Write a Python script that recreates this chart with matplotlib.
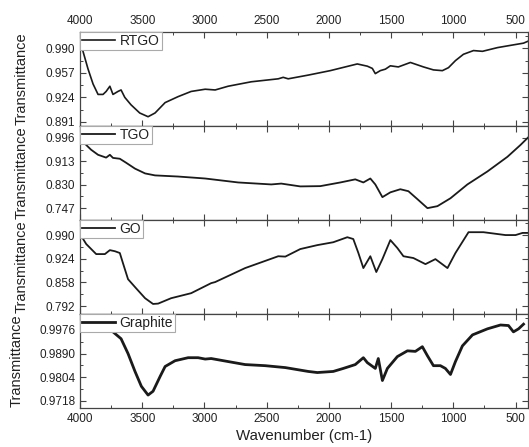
import matplotlib
matplotlib.use("Agg")
import matplotlib.pyplot as plt
from matplotlib.ticker import MultipleLocator, FixedLocator, AutoMinorLocator

plt.rcParams['font.family'] = ['Liberation Sans', 'DejaVu Sans']

# RTGO spectrum (wavenumber, transmittance)
rtgo_wn = [4000, 3976, 3936, 3895, 3855, 3815, 3790, 3760, 3735, 3695, 3670, 3640, 3590,
           3520, 3453, 3397, 3316, 3212, 3107, 2994, 2914, 2810, 2624, 2407, 2367, 2327,
           2166, 1989, 1772, 1691, 1651, 1627, 1587, 1546, 1506, 1442, 1345, 1240, 1160,
           1088, 1039, 983, 919, 838, 766, 645, 541, 436, 400]
rtgo_t = [0.9996, 0.986, 0.9625, 0.942, 0.928, 0.928, 0.932, 0.939, 0.928, 0.932, 0.934,
          0.924, 0.914, 0.903, 0.898, 0.903, 0.917, 0.925, 0.932, 0.935, 0.934, 0.939,
          0.945, 0.949, 0.951, 0.949, 0.954, 0.960, 0.969, 0.966, 0.963, 0.956, 0.960,
          0.962, 0.9665, 0.965, 0.971, 0.965, 0.961, 0.960, 0.964, 0.9735, 0.982, 0.987,
          0.986, 0.991, 0.994, 0.997, 0.9996]

# TGO spectrum
tgo_wn = [3960, 3911, 3855, 3790, 3760, 3735, 3680, 3630, 3558, 3477, 3397, 3212, 2994,
          2729, 2463, 2383, 2230, 2069, 1908, 1788, 1723, 1667, 1627, 1570, 1506, 1426,
          1361, 1289, 1208, 1128, 1023, 887, 726, 565, 460, 400]
tgo_t = [0.975, 0.954, 0.936, 0.926, 0.936, 0.925, 0.922, 0.908, 0.887, 0.870, 0.863,
         0.859, 0.852, 0.838, 0.831, 0.834, 0.824, 0.825, 0.838, 0.849, 0.838, 0.852,
         0.831, 0.786, 0.803, 0.814, 0.807, 0.779, 0.747, 0.754, 0.782, 0.831, 0.877,
         0.929, 0.971, 0.997]

# GO spectrum
go_wn = [4000, 3950, 3870, 3800, 3760, 3720, 3680, 3655, 3614, 3550, 3477, 3413, 3372,
         3268, 3107, 2946, 2914, 2673, 2407, 2350, 2230, 2093, 1965, 1852, 1804, 1763,
         1723, 1667, 1619, 1570, 1506, 1450, 1401, 1321, 1224, 1144, 1047, 983, 878,
         758, 581, 500, 444, 400]
go_t = [0.993, 0.965, 0.937, 0.937, 0.948, 0.945, 0.940, 0.912, 0.867, 0.842, 0.814,
        0.798, 0.799, 0.814, 0.828, 0.856, 0.859, 0.898, 0.931, 0.930, 0.951, 0.962,
        0.970, 0.984, 0.979, 0.940, 0.898, 0.931, 0.887, 0.923, 0.976, 0.954, 0.931,
        0.926, 0.909, 0.923, 0.898, 0.940, 0.998, 0.998, 0.990, 0.990, 0.996, 0.996]

# Graphite spectrum
gr_wn = [4000, 3800, 3735, 3670, 3614, 3558, 3507, 3453, 3413, 3356, 3316, 3236, 3131,
         3051, 2994, 2946, 2810, 2673, 2512, 2350, 2166, 2093, 1965, 1884, 1788, 1723,
         1691, 1627, 1603, 1570, 1530, 1450, 1369, 1305, 1249, 1208, 1160, 1104, 1064,
         1023, 983, 927, 846, 726, 621, 557, 517, 476, 436]
gr_t = [0.9985, 0.9978, 0.9969, 0.9944, 0.9890, 0.9825, 0.9771, 0.9739, 0.9753, 0.9807,
        0.9843, 0.9864, 0.9875, 0.9875, 0.9870, 0.9872, 0.9861, 0.9850, 0.9846, 0.9839,
        0.9825, 0.9821, 0.9825, 0.9836, 0.9850, 0.9875, 0.9857, 0.9836, 0.9872, 0.9792,
        0.9836, 0.9879, 0.9900, 0.9898, 0.9915, 0.9882, 0.9846, 0.9846, 0.9836, 0.9814,
        0.9861, 0.9918, 0.9958, 0.9980, 0.9994, 0.9992, 0.9969, 0.9980, 0.9997]

names = ['RTGO', 'TGO', 'GO', 'Graphite']
series = [(rtgo_wn, rtgo_t), (tgo_wn, tgo_t), (go_wn, go_t), (gr_wn, gr_t)]
yticks = [[0.891, 0.924, 0.957, 0.990],
          [0.747, 0.830, 0.913, 0.996],
          [0.792, 0.858, 0.924, 0.990],
          [0.9718, 0.9804, 0.9890, 0.9976]]
ylims = [(0.8855, 1.012), (0.705, 1.038), (0.770, 1.032), (0.9692, 1.0034)]
widths = [1.2, 1.3, 1.3, 2.0]

ink = '#222222'
fig = plt.figure(figsize=(5.29, 4.47), dpi=100)
left, right, bottom, top = 80 / 529, 528 / 529, 1 - 408 / 447, 1 - 32 / 447
h = (top - bottom) / 4

axes = []
for i in range(4):
    ax = fig.add_axes([left, top - (i + 1) * h, right - left, h])
    axes.append(ax)
    wn, t = series[i]
    ax.plot(wn, t, color='#1a1a1a', lw=widths[i], label=names[i])
    ax.set_xlim(4000, 400)
    ax.set_ylim(*ylims[i])
    ax.xaxis.set_major_locator(MultipleLocator(500))
    ax.xaxis.set_minor_locator(MultipleLocator(250))
    ax.yaxis.set_major_locator(FixedLocator(yticks[i]))
    step = yticks[i][1] - yticks[i][0]
    ax.yaxis.set_minor_locator(FixedLocator([yticks[i][0] + step * (k - 0.5) for k in range(0, 5)]))
    fmt = '%.4f' if i == 3 else '%.3f'
    ax.set_yticklabels([fmt % v for v in yticks[i]])
    ax.tick_params(which='both', direction='in', top=True, right=True, colors='#444444',
                   labelcolor=ink, labelsize=8.5)
    ax.tick_params(which='major', length=4.5, width=0.8)
    ax.tick_params(which='minor', length=2.5, width=0.7)
    ax.tick_params(axis='x', labelbottom=(i == 3), labeltop=(i == 0))
    for s in ax.spines.values():
        s.set_color('#444444')
        s.set_linewidth(0.9)
    ax.set_ylabel('Transmittance', fontsize=10.5, color=ink)
    ax.yaxis.set_label_coords(-0.125 if i == 3 else -0.114, 0.5)
    leg = ax.legend(loc='upper left', fontsize=10, handlelength=2.4, handletextpad=0.3,
                    borderaxespad=0.0, borderpad=0.15, fancybox=False, framealpha=1,
                    edgecolor='#aaaaaa')
    leg.get_frame().set_linewidth(0.8)
    for txt in leg.get_texts():
        txt.set_color(ink)

axes[3].set_xlabel('Wavenumber (cm-1)', fontsize=10.8, color=ink, labelpad=3)

fig.savefig('out.png', dpi=100)
